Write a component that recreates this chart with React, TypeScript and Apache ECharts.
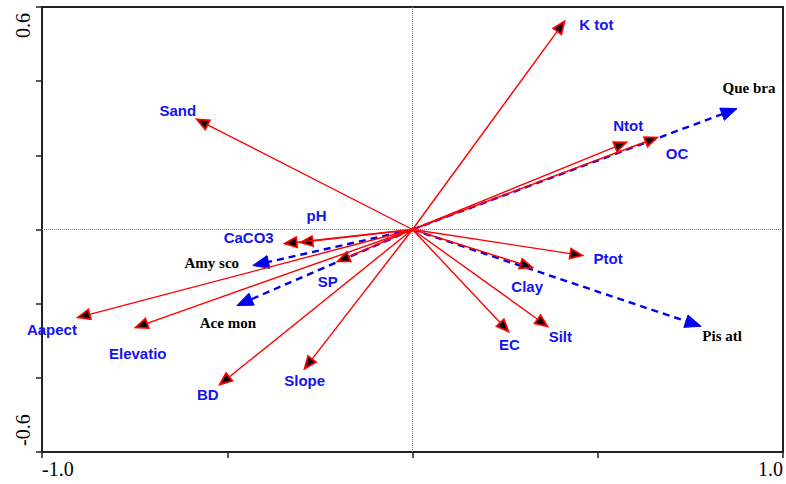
import React, { useEffect, useRef } from "react";
import * as echarts from "echarts";

// Environmental variables (red arrows)
const envNames = ["K tot", "Sand", "Ntot", "OC", "pH", "CaCO3", "SP", "Aapect", "Elevatio", "BD", "Slope", "Ptot", "Clay", "Silt", "EC"];
const envX = [0.41, -0.582, 0.577, 0.66, -0.302, -0.345, -0.202, -0.903, -0.747, -0.52, -0.291, 0.458, 0.323, 0.364, 0.259];
const envY = [0.561, 0.297, 0.235, 0.248, -0.035, -0.038, -0.086, -0.237, -0.264, -0.418, -0.375, -0.07, -0.102, -0.261, -0.275];

// Species (blue dashed arrows)
const speciesNames = ["Que bra", "Amy sco", "Ace mon", "Pis atl"];
const speciesX = [0.876, -0.431, -0.474, 0.779];
const speciesY = [0.326, -0.097, -0.205, -0.261];

// Tick labels
const xLabelValues = [-1, 1];
const xLabelTexts = ["-1.0", "1.0"];
const yLabelValues = [-0.6, 0.6];
const yLabelTexts = ["-0.6", "0.6"];

// Label offsets from arrow tips (pixels)
const envLabelOffsets = [[32, 3], [-19, -9], [2, -17], [20, 16], [16, -27], [-36, -6], [-10, 20], [-26, 12], [2, 26], [-12, 10], [0, 12], [26, 3], [-5, 19], [13, 10], [1, 13]];
const speciesLabelOffsets = [[12, -21], [-41, -2], [-9, 17], [21, 10]];

function lookupLabel(v: number, vals: number[], texts: string[]) {
  for (let i = 0; i < vals.length; i++) if (Math.abs(v - vals[i]) < 1e-6) return texts[i];
  return "";
}

function arrowSeries(names: string[], xs: number[], ys: number[], offsets: number[][], kind: "env" | "sp") {
  const isEnv = kind === "env";
  const color = isEnv ? "#ff0000" : "#0000ee";
  return {
    type: "custom",
    clip: false,
    silent: true,
    encode: { x: 0, y: 1 },
    data: xs.map((x, i) => [x, ys[i]]),
    renderItem: (params: any, api: any) => {
      const i = params.dataIndex;
      const o = api.coord([0, 0]);
      const t = api.coord([api.value(0), api.value(1)]);
      const dx = t[0] - o[0];
      const dy = t[1] - o[1];
      const len = Math.hypot(dx, dy) || 1;
      const ux = dx / len, uy = dy / len;
      const px = -uy, py = ux;
      const hl = isEnv ? 12 : 16;
      const hw = isEnv ? 5 : 6.5;
      const bx = t[0] - ux * hl, by = t[1] - uy * hl;
      const off = offsets[i];
      return {
        type: "group",
        children: [
          {
            type: "line",
            shape: { x1: o[0], y1: o[1], x2: isEnv ? bx : bx + ux * 2, y2: isEnv ? by : by + uy * 2 },
            style: { stroke: color, lineWidth: isEnv ? 1.4 : 2.4, lineDash: isEnv ? null : [7, 5] },
          },
          {
            type: "polygon",
            shape: { points: [[t[0], t[1]], [bx + px * hw, by + py * hw], [bx - px * hw, by - py * hw]] },
            style: isEnv ? { fill: "#000", stroke: color, lineWidth: 1.8 } : { fill: color, stroke: color, lineWidth: 1 },
          },
          {
            type: "text",
            style: {
              text: names[i],
              x: t[0] + off[0],
              y: t[1] + off[1],
              align: "center",
              verticalAlign: "middle",
              fill: isEnv ? "#1414f0" : "#000",
              font: isEnv ? "bold 15px 'Liberation Sans', Arial, sans-serif" : "bold 15px 'Liberation Serif', 'Times New Roman', serif",
            },
          },
        ],
      };
    },
  };
}

export default function App() {
  const ref = useRef<HTMLDivElement>(null);
  useEffect(() => {
    const chart = echarts.init(ref.current!, null, { renderer: "svg" });
    const axisLine = { show: true, onZero: false, lineStyle: { color: "#222", width: 2 } };
    chart.setOption({
      animation: false,
      backgroundColor: "#fff",
      grid: { left: 42, right: 2, top: 7, bottom: 32, show: true, borderColor: "#222", borderWidth: 2, backgroundColor: "transparent" },
      xAxis: {
        type: "value",
        min: -1,
        max: 1,
        interval: 0.5,
        axisLine,
        axisTick: { show: true, length: 6, lineStyle: { color: "#222", width: 1.5 } },
        splitLine: { show: false },
        axisLabel: {
          show: true,
          margin: 7,
          color: "#000",
          fontFamily: "'Liberation Serif', 'Times New Roman', serif",
          fontSize: 20,
          alignMinLabel: "left",
          alignMaxLabel: "right",
          formatter: (v: number) => lookupLabel(v, xLabelValues, xLabelTexts),
        },
      },
      yAxis: {
        type: "value",
        min: -0.6,
        max: 0.6,
        interval: 0.2,
        axisLine,
        axisTick: { show: true, length: 6, lineStyle: { color: "#222", width: 1.5 } },
        splitLine: { show: false },
        axisLabel: {
          show: true,
          rotate: 90,
          margin: 9,
          padding: [0, 6, 0, 6],
          color: "#000",
          fontFamily: "'Liberation Serif', 'Times New Roman', serif",
          fontSize: 20,
          alignMinLabel: "left",
          alignMaxLabel: "right",
          formatter: (v: number) => lookupLabel(v, yLabelValues, yLabelTexts),
        },
      },
      series: [
        {
          type: "scatter",
          data: [[0, 0]],
          symbolSize: 0,
          silent: true,
          markLine: {
            silent: true,
            symbol: ["none", "none"],
            label: { show: false },
            lineStyle: { color: "#777", type: [1, 1], width: 1 },
            data: [{ xAxis: 0 }, { yAxis: 0 }],
          },
        },
        arrowSeries(speciesNames, speciesX, speciesY, speciesLabelOffsets, "sp"),
        arrowSeries(envNames, envX, envY, envLabelOffsets, "env"),
      ],
    });
    return () => chart.dispose();
  }, []);
  return <div ref={ref} style={{ position: "absolute", left: 0, top: 0, width: 786, height: 484 }} />;
}
